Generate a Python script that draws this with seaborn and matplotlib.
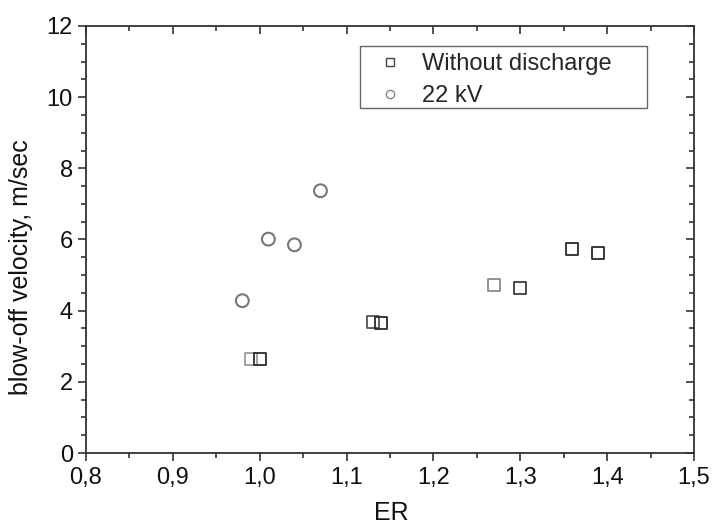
import matplotlib
matplotlib.use("Agg")
import matplotlib.pyplot as plt
import seaborn as sns
import pandas as pd
from matplotlib.lines import Line2D
from matplotlib.patches import Rectangle
from matplotlib.ticker import MultipleLocator, FuncFormatter

# Data
er_no_discharge = [0.99, 1.00, 1.13, 1.14, 1.27, 1.30, 1.36, 1.39]
v_no_discharge = [2.65, 2.65, 3.69, 3.66, 4.71, 4.63, 5.73, 5.62]
er_22kv = [0.98, 1.01, 1.04, 1.07]
v_22kv = [4.28, 6.01, 5.85, 7.37]
series_labels = ["Without discharge", "22 kV"]
x_label = "ER"
y_label = "blow-off velocity, m/sec"

# per-point edge shades (style)
sq_edges = ["#9a9a9a", "#2a2a2a", "#555555", "#2a2a2a", "#8a8a8a", "#3a3a3a", "#2a2a2a", "#2a2a2a"]
ci_edges = ["#777777"] * 4

sns.set_theme(style="white")
plt.rcParams["font.family"] = ["Liberation Sans", "DejaVu Sans"]

fig = plt.figure(figsize=(7.14, 5.27), dpi=100)
ax = fig.add_axes([0.1204, 0.1404, 0.8516, 0.8103])

df1 = pd.DataFrame({"ER": er_no_discharge, "v": v_no_discharge})
df2 = pd.DataFrame({"ER": er_22kv, "v": v_22kv})

sns.scatterplot(data=df1, x="ER", y="v", marker="s", s=75, facecolor="none",
                edgecolor=sq_edges, linewidth=1.3, ax=ax, legend=False)
sns.scatterplot(data=df2, x="ER", y="v", marker="o", s=85, facecolor="none",
                edgecolor=ci_edges, linewidth=1.5, ax=ax, legend=False)

ax.set_xlim(0.8, 1.5)
ax.set_ylim(0, 12)
ax.xaxis.set_major_locator(MultipleLocator(0.1))
ax.xaxis.set_minor_locator(MultipleLocator(0.05))
ax.yaxis.set_major_locator(MultipleLocator(2))
ax.yaxis.set_minor_locator(MultipleLocator(0.5))
ax.xaxis.set_major_formatter(FuncFormatter(lambda v, p: f"{v:.1f}".replace(".", ",")))
ax.yaxis.set_major_formatter(FuncFormatter(lambda v, p: f"{v:.0f}"))

spine_col = "#333333"
for s in ax.spines.values():
    s.set_color(spine_col)
    s.set_linewidth(1.3)
    s.set_visible(True)

ax.tick_params(which="both", direction="out", color=spine_col, width=1.2,
               labelsize=17, labelcolor="#111111", bottom=True, left=True)
ax.tick_params(which="major", length=6)
ax.tick_params(which="minor", length=3.5)
ax.tick_params(axis="x", pad=4)

# mirrored inward ticks on top/right
top = ax.secondary_xaxis("top")
top.xaxis.set_major_locator(MultipleLocator(0.1))
top.xaxis.set_minor_locator(MultipleLocator(0.05))
top.tick_params(which="both", direction="in", color=spine_col, width=1.2, labeltop=False)
top.tick_params(which="major", length=6)
top.tick_params(which="minor", length=3.5)
top.spines["top"].set_visible(False)
right = ax.secondary_yaxis("right")
right.yaxis.set_major_locator(MultipleLocator(2))
right.yaxis.set_minor_locator(MultipleLocator(0.5))
right.tick_params(which="both", direction="in", color=spine_col, width=1.2, labelright=False)
right.tick_params(which="major", length=6)
right.tick_params(which="minor", length=3.5)
right.spines["right"].set_visible(False)

ax.set_xlabel(x_label, fontsize=18, color="#111111")
ax.xaxis.set_label_coords(0.502, -0.113)
ax.set_ylabel(y_label, fontsize=18, color="#111111")
ax.yaxis.set_label_coords(-0.087, 0.436)

# legend frame drawn as a rectangle, entries without frame
ax.add_patch(Rectangle((0.4507, 0.808), 0.472, 0.1452, transform=ax.transAxes,
                       facecolor="white", edgecolor="#666666", linewidth=1.0, zorder=5))
handles = [
    Line2D([], [], linestyle="none", marker="s", markersize=6, markerfacecolor="none",
           markeredgecolor="#444444", markeredgewidth=1.0),
    Line2D([], [], linestyle="none", marker="o", markersize=6, markerfacecolor="none",
           markeredgecolor="#888888", markeredgewidth=1.0),
]
leg = ax.legend(handles, series_labels, loc="upper left", bbox_to_anchor=(0.46, 0.95),
                fontsize=17, frameon=False,
                borderpad=0.25, labelspacing=0.42, handletextpad=0.55, handlelength=1.6,
                borderaxespad=0)
leg.set_zorder(6)

fig.savefig("out.png", dpi=100)
